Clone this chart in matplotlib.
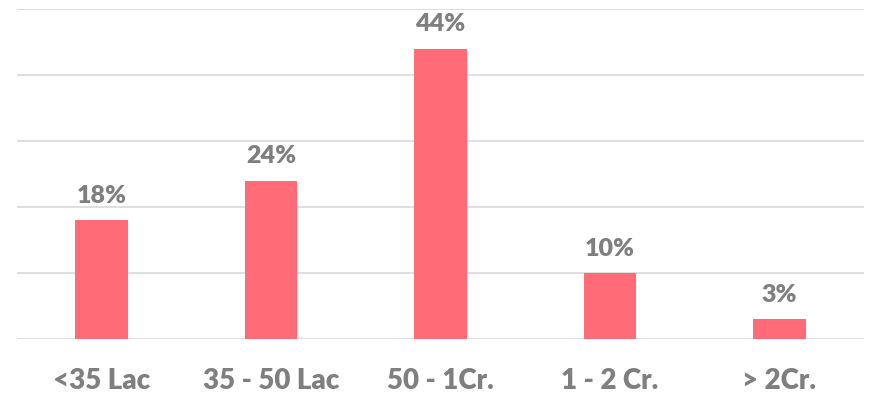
import matplotlib
matplotlib.use("Agg")
import matplotlib.pyplot as plt

categories = ["<35 Lac", "35 - 50 Lac", "50 - 1Cr.", "1 - 2 Cr.", "> 2Cr."]
values = [18, 24, 44, 10, 3]
labels = ["18%", "24%", "44%", "10%", "3%"]

plt.rcParams['font.family'] = ['Lato', 'DejaVu Sans']

fig = plt.figure(figsize=(8.74, 3.98), dpi=100)
ax = fig.add_axes([17/874, (398-339)/398, (864-17)/874, 330/398])

x = range(len(categories))
bars = ax.bar(x, values, width=0.31, color="#FF6B77", zorder=3)
for xi, v, lab in zip(x, values, labels):
    ax.text(xi, v + 2.0, lab, ha="center", va="bottom", fontsize=18,
            fontweight="heavy", color="#7F7F7F")

ax.set_xlim(-0.5, len(categories) - 0.5)
ax.set_ylim(0, 50)
ax.set_yticks(range(0, 51, 10))
ax.yaxis.grid(True, color="#D9D9D9", linewidth=1.2, zorder=0)
ax.set_yticklabels([])
ax.tick_params(axis="y", length=0)
ax.set_xticks(list(x))
ax.set_xticklabels(categories, fontsize=20, fontweight="heavy", color="#7F7F7F")
ax.tick_params(axis="x", length=0, pad=21)
for s in ax.spines.values():
    s.set_visible(False)

fig.savefig("out.png", dpi=100)
